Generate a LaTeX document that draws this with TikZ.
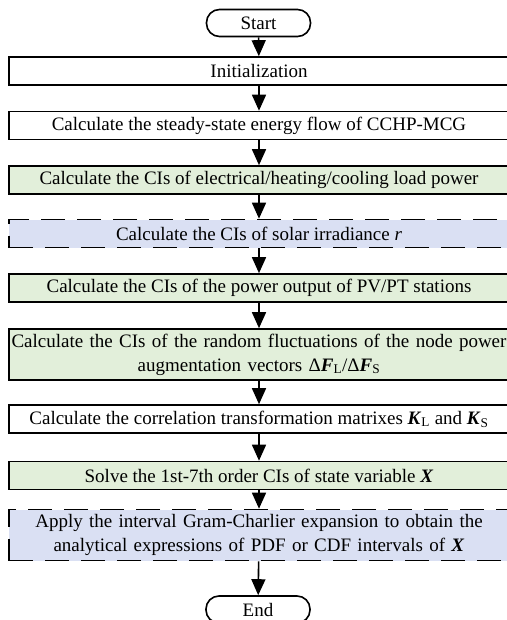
\documentclass[tikz,border=0pt]{standalone}
\usepackage{fontspec}
\setmainfont{Liberation Serif}
\usetikzlibrary{arrows.meta}
\definecolor{stepgreen}{HTML}{E2EFDA}
\definecolor{stepblue}{HTML}{DAE0F3}
\begin{document}
\begin{tikzpicture}[x=1pt, y=-1pt,
    font=\fontsize{19}{24}\selectfont,
    box/.style={draw, line width=1.6pt, minimum width=500pt, minimum height=28pt, inner sep=0pt, align=center},
    twoline/.style={box, minimum height=51pt, text width=498pt},
    greenbox/.style={fill=stepgreen},
    bluebox/.style={fill=stepblue, dash pattern=on 24pt off 12pt},
    terminal/.style={draw, line width=1.6pt, rounded corners=13pt, minimum width=104pt, minimum height=27pt, inner sep=0pt},
    flow/.style={line width=1.6pt, -{Triangle[width=14pt, length=16pt]}}]
  \useasboundingbox (0, 0) rectangle (506, 620);
  % nodes
  \node[terminal] (start) at (258.5, 23) {Start};
  \node[box] (init) at (259, 71) {Initialization};
  \node[box] (flowcalc) at (259, 125.5) {Calculate the steady-state energy flow of CCHP-MCG};
  \node[box, greenbox] (loadci) at (259, 180) {Calculate the CIs of electrical/heating/cooling load power};
  \node[box, bluebox] (solarci) at (259, 233.5) {Calculate the CIs of solar irradiance \textit{r}};
  \node[box, greenbox] (pvci) at (259, 288) {Calculate the CIs of the power output of PV/PT stations};
  \node[twoline, greenbox] (augci) at (259, 354.5) {Calculate the CIs of the random fluctuations of the node power\\augmentation vectors Δ\textbf{\textit{F}}\textsubscript{L}/Δ\textbf{\textit{F}}\textsubscript{S}};
  \node[box] (corr) at (259, 419) {Calculate the correlation transformation matrixes \textbf{\textit{K}}\textsubscript{L} and \textbf{\textit{K}}\textsubscript{S}};
  \node[box, greenbox] (solve) at (259, 475.5) {Solve the 1st-7th order CIs of state variable \textbf{\textit{X}}};
  \node[twoline, bluebox] (gram) at (259, 535) {Apply the interval Gram-Charlier expansion to obtain the\\analytical expressions of PDF or CDF intervals of \textbf{\textit{X}}};
  \node[terminal] (end) at (258, 609.5) {End};
  % lines
  \foreach \a/\b in {start/init, init/flowcalc, flowcalc/loadci, loadci/solarci, solarci/pvci,
      pvci/augci, augci/corr, corr/solve, solve/gram, gram/end}
    \draw[flow] (\a) -- (\b);
\end{tikzpicture}
\end{document}
